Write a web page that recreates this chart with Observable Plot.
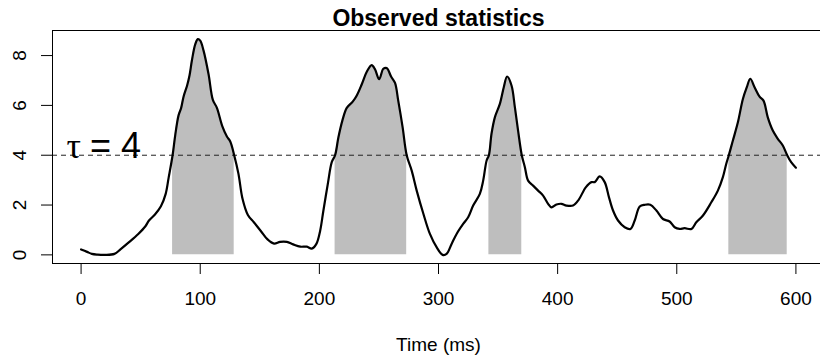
<!DOCTYPE html>
<html><head><meta charset="utf-8">
<script src="https://cdn.jsdelivr.net/npm/d3@7"></script>
<script src="https://cdn.jsdelivr.net/npm/@observablehq/plot@0.6"></script>
<style>
html,body{margin:0;padding:0;background:#fff;overflow:hidden;width:820px;height:355px;}
#chart svg{display:block;max-width:none;}
</style></head><body><div id="chart"></div>
<script>
const time = [0,5,9,14,20,28,33,40,48,54,57,62,67,71,73.5,76.8,79,81.8,84,86,89,91,93,95.8,98,100,102.8,107,110.6,114,118.5,122.4,125.2,128.5,132.1,135.5,140,145,151,156.5,162,167,172.7,178,184,189.5,193.6,197.5,200.6,203.4,207.1,210.4,213.2,216,219.3,223,228,231.4,235.6,239.8,243.9,246.7,250.2,253.7,256.5,260.3,263.5,266.2,269.9,273.3,277.5,281.7,287.3,292.8,298.4,303.5,306.8,311,315.2,320.7,324.9,329.1,334.7,337.5,340.4,342.3,344.5,347.3,351.5,354.8,357.6,361.3,364.1,366.8,369.9,372.5,375.2,379.4,383.6,387.8,392,394.8,399,403.2,407.4,412.9,417.5,423.6,428.4,431.1,435.3,439.5,443.1,446.5,450.7,456.3,461.1,464.7,468.9,473.1,477.8,482.9,488.4,494,498.2,502.4,506.6,512.3,516.4,522,529,534.5,538.7,541.5,543.7,547.1,551.3,555.5,558.8,561.7,565.3,569.5,572.8,576.4,580.6,584.8,589,592.7,596,600];
const value = [0.22,0.12,0.04,0.01,0.0,0.04,0.22,0.5,0.84,1.15,1.38,1.62,1.95,2.45,3.1,4.0,4.8,5.6,5.9,6.35,6.8,7.2,7.8,8.45,8.66,8.6,8.2,7.25,6.22,5.9,5.17,4.75,4.55,4.0,3.25,2.25,1.6,1.31,0.95,0.62,0.45,0.52,0.52,0.42,0.33,0.33,0.25,0.44,0.95,1.78,2.85,3.72,4.0,4.72,5.39,5.9,6.15,6.4,6.85,7.35,7.62,7.45,7.05,7.47,7.5,7.15,6.9,6.19,5.12,4.0,3.38,2.58,1.65,0.84,0.31,0.0,0.04,0.44,0.84,1.24,1.51,1.98,2.45,2.98,3.79,4.0,4.86,5.52,6.06,6.73,7.16,6.8,5.93,4.99,4.0,3.52,2.98,2.78,2.58,2.38,2.05,1.91,2.02,2.05,1.98,1.98,2.2,2.71,2.92,2.92,3.15,2.92,2.31,1.78,1.38,1.11,1.04,1.38,1.94,2.01,2.01,1.78,1.44,1.34,1.11,1.04,1.07,1.04,1.31,1.58,2.11,2.58,3.12,3.65,4.0,4.59,5.32,6.26,6.73,7.07,6.73,6.35,6.19,5.52,4.99,4.66,4.39,4.0,3.72,3.5];
const clusterStart = [76.8, 213.2, 342.3, 543.7];
const clusterEnd = [128.5, 273.3, 369.9, 592.7];
const threshold = 4;
const xTicks = [0, 100, 200, 300, 400, 500, 600];
const yTicks = [0, 2, 4, 6, 8];
const titleText = "Observed statistics";
const xLabelText = "Time (ms)";
const tauSymbol = "τ";
const tauRest = "= 4";
const tauAt = [{time: 0, value: 4}];

const data = time.map((t, i) => ({time: t, value: value[i]}));
const shade = [];
clusterStart.forEach((s, k) => {
  data.forEach(d => { if (d.time >= s - 1e-9 && d.time <= clusterEnd[k] + 1e-9) shade.push({...d, cluster: k}); });
});
const pad = (lo, hi) => { const r = (hi - lo) * 0.04; return [lo - r, hi + r]; };
const xDom = pad(d3.min(time), d3.max(time));
const yDom = pad(d3.min(value), d3.max(value));
const sans = "'Liberation Sans', Arial, Helvetica, sans-serif";

const chart = Plot.plot({
  width: 830, height: 355,
  marginLeft: 52, marginRight: 6, marginTop: 30, marginBottom: 92,
  style: {fontFamily: sans, fontSize: "19px", background: "#fff", maxWidth: "none", color: "#000", overflow: "visible"},
  x: {domain: xDom},
  y: {domain: yDom},
  marks: [
    Plot.areaY(shade, {x: "time", y: "value", z: "cluster", fill: "#bebebe", curve: "catmull-rom"}),
    Plot.ruleY([threshold], {stroke: "#222", strokeDasharray: "5,4", strokeWidth: 1}),
    Plot.line(data, {x: "time", y: "value", stroke: "#000", strokeWidth: 2.2, curve: "catmull-rom"}),
    Plot.frame({stroke: "#000", strokeWidth: 1}),
    Plot.axisX(xTicks, {tickSize: 11, tickPadding: 17, label: null, fontSize: 19}),
    Plot.axisY(yTicks, {tickSize: 11, tickRotate: -90, tickPadding: 16, label: null, fontSize: 19}),
    Plot.text([titleText], {text: d => d, frameAnchor: "top", dy: -5, lineAnchor: "bottom", fontWeight: "bold", fontSize: 23}),
    Plot.text([xLabelText], {text: d => d, frameAnchor: "bottom", dy: 87, lineAnchor: "bottom", fontSize: 19}),
    Plot.text(tauAt, {x: "time", y: "value", text: () => tauSymbol, textAnchor: "end", lineAnchor: "bottom", dx: 0, dy: 3, fontSize: 36, fontFamily: "'Liberation Serif', 'DejaVu Serif', serif"}),
    Plot.text(tauAt, {x: "time", y: "value", text: () => tauRest, textAnchor: "start", lineAnchor: "bottom", dx: 9, dy: 3, fontSize: 36})
  ]
});
document.getElementById("chart").appendChild(chart);
</script></body></html>
